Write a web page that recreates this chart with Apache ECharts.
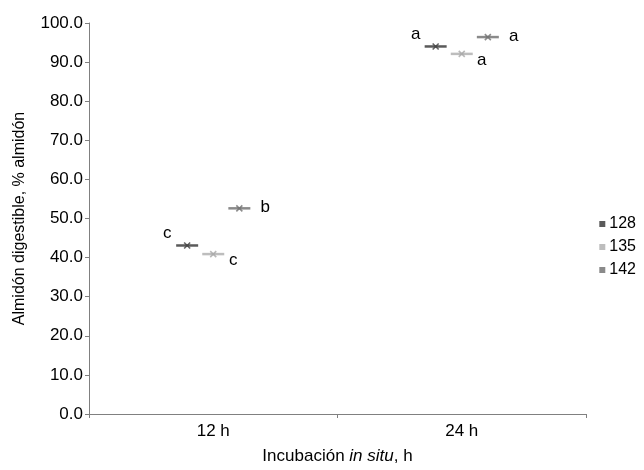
<!DOCTYPE html>
<html><head><meta charset="utf-8">
<script src="https://cdn.jsdelivr.net/npm/echarts@6/dist/echarts.min.js"></script>
<style>html,body{margin:0;padding:0;background:#fff}#c{width:644px;height:470px}</style>
</head><body><div id="c"></div>
<script>
var categories = ['12 h', '24 h'];
var seriesNames = ['128', '135', '142'];
var values128 = [43.1, 94.0];
var values135 = [40.9, 92.1];
var values142 = [52.6, 96.4];
var letters128 = ['c', 'a'];
var letters135 = ['c', 'a'];
var letters142 = ['b', 'a'];
var yTicks = { min: 0, max: 100, interval: 10 };

var colors = ['#5a5a5a', '#bdbdbd', '#8a8a8a'];
var crossColors = ['#404040', '#a8a8a8', '#707070'];
var offsets = [-0.105, 0, 0.105];
var labelOffsets = [[-20, -12], [20, 6], [26, -1]];
var allValues = [values128, values135, values142];
var allLetters = [letters128, letters135, letters142];
var font = 'Liberation Sans, Arial, sans-serif';

var series = [];
seriesNames.forEach(function (name, s) {
  var data = allValues[s].map(function (v, i) { return [i + 0.5 + offsets[s], v]; });
  series.push({
    name: name, type: 'scatter', xAxisIndex: 1, symbol: 'rect', symbolSize: [22, 2.5],
    itemStyle: { color: colors[s], opacity: 1 },
    data: data,
    label: {
      show: true, position: 'inside', offset: labelOffsets[s],
      formatter: function (p) { return allLetters[s][p.dataIndex]; },
      color: '#000', fontSize: 17, fontFamily: font
    },
    emphasis: { disabled: true }, z: 3
  });
  series.push({
    name: name, type: 'scatter', xAxisIndex: 1,
    symbol: 'path://M0,0L10,10M10,0L0,10', symbolSize: 6,
    itemStyle: { color: crossColors[s], borderColor: crossColors[s], borderWidth: 1.6 },
    data: data, emphasis: { disabled: true }, z: 4
  });
});

var chart = echarts.init(document.getElementById('c'));
chart.setOption({
  animation: false,
  grid: { left: 89, right: 58, top: 23, bottom: 50 },
  legend: {
    orient: 'vertical', right: 3, top: 211, itemGap: 7,
    icon: 'rect', itemWidth: 6, itemHeight: 6,
    textStyle: { fontSize: 16, fontFamily: font, color: '#000', padding: [0, 0, 0, -1] },
    data: seriesNames.map(function (n) { return { name: n, icon: 'rect' }; }),
    selectedMode: false
  },
  xAxis: [{
    type: 'category', data: categories, boundaryGap: true,
    axisLine: { lineStyle: { color: '#808080', width: 1 } },
    axisTick: { show: true, inside: false, length: 4, lineStyle: { color: '#808080' } },
    axisLabel: { fontSize: 17, fontFamily: font, color: '#000', margin: 9 },
    name: '{n|Incubación }{i|in situ}{n|, h}', nameLocation: 'middle', nameGap: 34,
    nameTextStyle: {
      rich: {
        n: { fontSize: 17, fontFamily: font, color: '#000' },
        i: { fontSize: 17, fontFamily: font, color: '#000', fontStyle: 'italic' }
      }
    }
  }, {
    type: 'value', min: 0, max: 2, show: false
  }],
  yAxis: {
    type: 'value', min: yTicks.min, max: yTicks.max, interval: yTicks.interval,
    axisLine: { show: true, lineStyle: { color: '#808080', width: 1 } },
    axisTick: { show: true, length: 4, lineStyle: { color: '#808080' } },
    splitLine: { show: false },
    axisLabel: { fontSize: 17, fontFamily: font, color: '#000', margin: 6,
      formatter: function (v) { return v.toFixed(1); } },
    name: 'Almidón digestible, % almidón', nameLocation: 'middle', nameGap: 61,
    nameTextStyle: { fontSize: 16, fontFamily: font, color: '#000' }
  },
  series: series
});
</script></body></html>
